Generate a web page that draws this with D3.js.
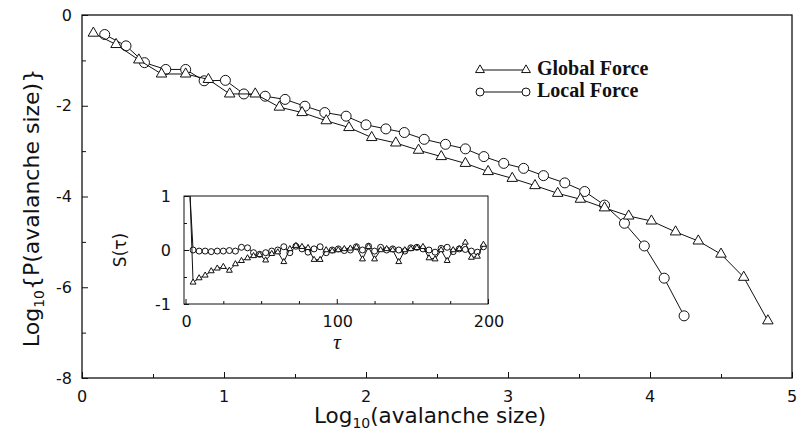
<!DOCTYPE html>
<html>
<head>
<meta charset="utf-8">
<script src="https://cdn.jsdelivr.net/npm/d3@7"></script>
<style>
  body { margin: 0; background: #fff; }
  svg { display: block; }
</style>
</head>
<body>
<div id="plot"></div>
<script>
// main panel: log10(avalanche size) vs log10 P
var globalX = [0.08,0.24,0.40,0.56,0.73,0.89,1.04,1.22,1.39,1.55,1.72,1.88,2.04,2.21,2.37,2.53,2.70,2.86,3.03,3.19,3.35,3.51,3.68,3.85,4.01,4.18,4.34,4.50,4.66,4.83];
var globalY = [-0.40,-0.65,-0.99,-1.30,-1.30,-1.42,-1.74,-1.74,-2.03,-2.15,-2.33,-2.48,-2.70,-2.82,-2.98,-3.12,-3.27,-3.45,-3.60,-3.76,-3.93,-4.06,-4.25,-4.43,-4.54,-4.78,-4.98,-5.27,-5.78,-6.74];
var localX = [0.16,0.31,0.44,0.59,0.73,0.86,1.01,1.14,1.29,1.43,1.57,1.71,1.86,2.00,2.14,2.27,2.41,2.56,2.70,2.83,2.97,3.11,3.25,3.40,3.54,3.68,3.82,3.96,4.10,4.24];
var localY = [-0.43,-0.68,-1.05,-1.20,-1.20,-1.45,-1.44,-1.74,-1.79,-1.86,-2.01,-2.15,-2.23,-2.42,-2.51,-2.59,-2.74,-2.85,-2.95,-3.12,-3.27,-3.38,-3.54,-3.70,-3.89,-4.19,-4.59,-5.09,-5.80,-6.63];

// inset: S(tau); first entry is the lag-start point (no marker)
var tau = [3,5,9,13,17,21,25,29,33,37,41,45,49,53,57,61,65,69,73,77,81,85,89,93,97,101,105,109,113,117,121,125,129,133,137,141,145,149,153,157,161,165,169,173,177,181,185,189,193,197];
var sGlobal = [1.00,-0.60,-0.52,-0.47,-0.39,-0.34,-0.31,-0.38,-0.26,-0.20,-0.15,-0.11,-0.09,-0.19,-0.07,-0.04,-0.22,0.02,0.08,0.06,0.04,-0.18,-0.18,0.00,-0.02,0.00,0.02,0.03,0.05,-0.17,0.06,-0.17,0.00,0.02,0.00,-0.22,0.00,0.02,0.04,0.06,-0.15,-0.17,0.00,-0.20,0.00,0.02,0.14,-0.14,-0.12,0.10];
var sLocal = [1.00,0.00,-0.02,-0.02,-0.03,-0.02,-0.02,-0.01,-0.02,0.05,0.04,-0.05,-0.08,-0.05,-0.02,0.00,0.06,-0.05,0.07,0.02,-0.04,0.02,0.06,-0.05,0.00,0.02,-0.01,0.00,0.06,0.00,0.07,-0.02,0.05,0.00,0.02,0.00,-0.02,0.04,0.05,0.02,0.00,-0.04,0.03,0.05,-0.03,0.02,0.01,-0.02,-0.04,0.06];

var mainXTicks = [0,1,2,3,4,5];
var mainXMinor = [0.5,1.5,2.5,3.5,4.5];
var mainYTicks = [0,-2,-4,-6,-8];
var mainYMinor = [-1,-3,-5,-7];
var insetXTicks = [0,100,200];
var insetXMinor = [25,50,75,125,150,175];
var insetYTicks = [-1,0,1];
var insetYMinor = [-0.5,0.5];
var legendLabels = ["Global Force","Local Force"];

var w = 797, h = 429;
var frame = {left: 82, right: 792, top: 15, bottom: 378};
var inset = {left: 184, right: 488, top: 196, bottom: 304};
var ink = "#111";
var sans = "'DejaVu Sans', sans-serif";

var svg = d3.select("#plot").append("svg")
    .attr("width", w)
    .attr("height", h);

svg.append("rect")
    .attr("width", w).attr("height", h)
    .attr("fill", "white");

var x = d3.scaleLinear().domain([0, 5]).range([frame.left, frame.right]);
var y = d3.scaleLinear().domain([-8, 0]).range([frame.bottom, frame.top]);

// inward ticks
function ticks(axis, vals, size) {
  return axis.tickValues(vals).tickSize(size).tickFormat("");
}

svg.append("g")
    .attr("transform", `translate(0,${frame.bottom})`)
    .call(ticks(d3.axisBottom(x), mainXTicks, -6));
svg.append("g")
    .attr("transform", `translate(0,${frame.bottom})`)
    .call(ticks(d3.axisBottom(x), mainXMinor, -4));
svg.append("g")
    .attr("transform", `translate(${frame.left},0)`)
    .call(ticks(d3.axisLeft(y), mainYTicks, -6));
svg.append("g")
    .attr("transform", `translate(${frame.left},0)`)
    .call(ticks(d3.axisLeft(y), mainYMinor, -4));
svg.selectAll(".domain").remove();
svg.selectAll(".tick line").attr("stroke", ink);

svg.append("rect")
    .attr("x", frame.left).attr("y", frame.top)
    .attr("width", frame.right - frame.left)
    .attr("height", frame.bottom - frame.top)
    .attr("fill", "none")
    .attr("stroke", ink)
    .attr("stroke-width", 1.3);

// tick labels
svg.append("g").selectAll("text")
    .data(mainXTicks)
  .enter().append("text")
    .attr("x", d => x(d))
    .attr("y", 396)
    .attr("text-anchor", "middle")
    .attr("dominant-baseline", "central")
    .attr("font-family", sans)
    .attr("font-size", "16px")
    .attr("fill", ink)
    .text(d => d);

svg.append("g").selectAll("text")
    .data(mainYTicks)
  .enter().append("text")
    .attr("x", 72)
    .attr("y", d => y(d))
    .attr("text-anchor", "end")
    .attr("dominant-baseline", "central")
    .attr("font-family", sans)
    .attr("font-size", "16px")
    .attr("fill", ink)
    .text(d => d);

// axis titles
var xt = svg.append("text")
    .attr("x", 430).attr("y", 423)
    .attr("text-anchor", "middle")
    .attr("font-family", sans)
    .attr("font-size", "21.5px")
    .attr("fill", ink);
xt.append("tspan").text("Log");
xt.append("tspan").attr("font-size", "14px").attr("dy", 5).text("10");
xt.append("tspan").attr("dy", -5).text("(avalanche size)");

var yt = svg.append("text")
    .attr("transform", "translate(39,208) rotate(-90)")
    .attr("text-anchor", "middle")
    .attr("font-family", sans)
    .attr("font-size", "22px")
    .attr("fill", ink);
yt.append("tspan").text("Log");
yt.append("tspan").attr("font-size", "14px").attr("dy", 5).text("10");
yt.append("tspan").attr("dy", -5).text("{P(avalanche size)}");

// series
var globalPts = d3.zip(globalX, globalY);
var localPts = d3.zip(localX, localY);

var tri = d3.symbol().type(d3.symbolTriangle);

function drawSeries(g, pts, xs, ys, kind, r, triSize, skip) {
  g.append("path")
      .datum(pts)
      .attr("fill", "none")
      .attr("stroke", ink)
      .attr("stroke-width", 1)
      .attr("d", d3.line().x(d => xs(d[0])).y(d => ys(d[1])));
  var m = pts.slice(skip);
  if (kind == "tri") {
    g.selectAll(null).data(m).enter().append("path")
        .attr("transform", d => `translate(${xs(d[0])},${ys(d[1])})`)
        .attr("d", tri.size(triSize)())
        .attr("fill", "white")
        .attr("stroke", ink)
        .attr("stroke-width", 1);
  } else {
    g.selectAll(null).data(m).enter().append("circle")
        .attr("cx", d => xs(d[0]))
        .attr("cy", d => ys(d[1]))
        .attr("r", r)
        .attr("fill", "white")
        .attr("stroke", ink)
        .attr("stroke-width", 1);
  }
}

var main = svg.append("g");
drawSeries(main, localPts, x, y, "circ", 5, 0, 0);
drawSeries(main, globalPts, x, y, "tri", 0, 48, 0);

// legend
var leg = svg.append("g");
[["tri", 70], ["circ", 92]].forEach(function(k, i) {
  leg.append("line")
      .attr("x1", 480).attr("x2", 526)
      .attr("y1", k[1]).attr("y2", k[1])
      .attr("stroke", ink).attr("stroke-width", 1);
  [480, 526].forEach(function(cx) {
    if (k[0] == "tri") {
      leg.append("path")
          .attr("transform", `translate(${cx},${k[1]})`)
          .attr("d", tri.size(34)())
          .attr("fill", "white").attr("stroke", ink);
    } else {
      leg.append("circle")
          .attr("cx", cx).attr("cy", k[1]).attr("r", 4)
          .attr("fill", "white").attr("stroke", ink);
    }
  });
  leg.append("text")
      .attr("x", 537).attr("y", k[1] + 5)
      .attr("font-family", "'Liberation Serif', 'Times New Roman', serif")
      .attr("font-weight", "bold")
      .attr("font-size", "20px")
      .attr("fill", ink)
      .text(legendLabels[i]);
});

// inset
var ix = d3.scaleLinear().domain([-1, 200]).range([inset.left, inset.right]);
var iy = d3.scaleLinear().domain([-1, 1]).range([inset.bottom, inset.top]);

var ig = svg.append("g");
ig.append("rect")
    .attr("x", inset.left).attr("y", inset.top)
    .attr("width", inset.right - inset.left)
    .attr("height", inset.bottom - inset.top)
    .attr("fill", "white")
    .attr("stroke", ink)
    .attr("stroke-width", 1);

ig.append("g")
    .attr("transform", `translate(0,${inset.bottom})`)
    .call(ticks(d3.axisBottom(ix), insetXTicks, -5));
ig.append("g")
    .attr("transform", `translate(0,${inset.bottom})`)
    .call(ticks(d3.axisBottom(ix), insetXMinor, -3));
ig.append("g")
    .attr("transform", `translate(${inset.left},0)`)
    .call(ticks(d3.axisLeft(iy), insetYTicks, -5));
ig.append("g")
    .attr("transform", `translate(${inset.left},0)`)
    .call(ticks(d3.axisLeft(iy), insetYMinor, -3));
ig.selectAll(".domain").remove();
ig.selectAll(".tick line").attr("stroke", ink);

svg.append("clipPath").attr("id", "insetClip")
  .append("rect")
    .attr("x", inset.left).attr("y", inset.top)
    .attr("width", inset.right - inset.left)
    .attr("height", inset.bottom - inset.top);

var ic = ig.append("g").attr("clip-path", "url(#insetClip)");
drawSeries(ic, d3.zip(tau, sLocal), ix, iy, "circ", 3, 0, 1);
drawSeries(ic, d3.zip(tau, sGlobal), ix, iy, "tri", 0, 15, 1);

ig.selectAll(null).data(insetXTicks).enter().append("text")
    .attr("x", d => ix(d) + 1)
    .attr("y", 321)
    .attr("text-anchor", "middle")
    .attr("dominant-baseline", "central")
    .attr("font-family", sans)
    .attr("font-size", "16px")
    .attr("fill", ink)
    .text(d => d);

ig.selectAll(null).data(insetYTicks).enter().append("text")
    .attr("x", 171)
    .attr("y", d => iy(d))
    .attr("text-anchor", "end")
    .attr("dominant-baseline", "central")
    .attr("font-family", sans)
    .attr("font-size", "16px")
    .attr("fill", ink)
    .text(d => d);

ig.append("text")
    .attr("x", 337).attr("y", 349)
    .attr("text-anchor", "middle")
    .attr("font-family", "'Liberation Serif', 'Times New Roman', serif")
    .attr("font-style", "italic")
    .attr("font-size", "22px")
    .attr("fill", ink)
    .text("τ");

ig.append("text")
    .attr("transform", "translate(126,250) rotate(-90)")
    .attr("text-anchor", "middle")
    .attr("font-family", sans)
    .attr("font-size", "17px")
    .attr("fill", ink)
    .text("S(τ)");
</script>
</body>
</html>
